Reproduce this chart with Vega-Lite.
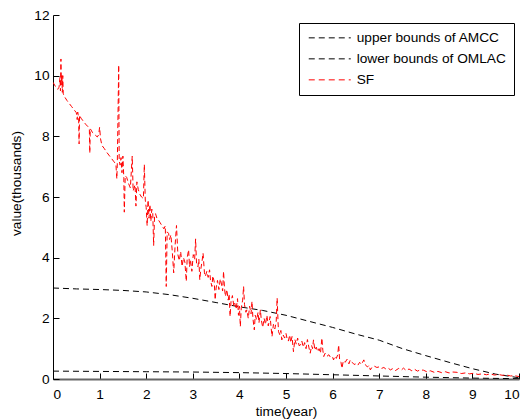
{
  "$schema": "https://vega.github.io/schema/vega-lite/v6.json",
  "autosize": {"type": "none"},
  "padding": {"left": 53, "top": 15, "right": 3, "bottom": 40},
  "width": 466,
  "height": 364,
  "background": "white",
  "config": {
    "view": {"stroke": null},
    "font": "Liberation Sans"
  },
  "datasets": {
    "upper": [
      {"t": 0, "v": 3.0}, {"t": 0.5, "v": 2.97}, {"t": 1, "v": 2.95}, {"t": 1.5, "v": 2.92},
      {"t": 2, "v": 2.87}, {"t": 2.5, "v": 2.78}, {"t": 3, "v": 2.66}, {"t": 3.5, "v": 2.52},
      {"t": 4, "v": 2.38}, {"t": 4.5, "v": 2.26}, {"t": 5, "v": 2.1}, {"t": 5.5, "v": 1.9},
      {"t": 6, "v": 1.7}, {"t": 6.5, "v": 1.48}, {"t": 7, "v": 1.28}, {"t": 7.5, "v": 1.0},
      {"t": 8, "v": 0.77}, {"t": 8.5, "v": 0.55}, {"t": 9, "v": 0.34}, {"t": 9.5, "v": 0.16},
      {"t": 10, "v": 0.04}
    ],
    "lower": [
      {"t": 0, "v": 0.26}, {"t": 1, "v": 0.25}, {"t": 2, "v": 0.24}, {"t": 3, "v": 0.23},
      {"t": 4, "v": 0.21}, {"t": 5, "v": 0.18}, {"t": 6, "v": 0.14}, {"t": 7, "v": 0.1},
      {"t": 8, "v": 0.06}, {"t": 9, "v": 0.03}, {"t": 10, "v": 0.01}
    ],
    "sf": [
      {"t":0.00,"v":9.78},{"t":0.05,"v":9.65},{"t":0.10,"v":9.55},{"t":0.13,"v":9.62},{"t":0.15,"v":9.95},
      {"t":0.16,"v":9.50},{"t":0.17,"v":10.55},{"t":0.18,"v":9.70},{"t":0.19,"v":10.05},{"t":0.20,"v":9.45},
      {"t":0.21,"v":10.00},{"t":0.22,"v":9.40},{"t":0.25,"v":9.30},{"t":0.30,"v":9.18},{"t":0.35,"v":9.08},
      {"t":0.40,"v":8.98},{"t":0.45,"v":8.88},{"t":0.50,"v":8.78},{"t":0.52,"v":8.55},{"t":0.53,"v":8.80},
      {"t":0.55,"v":8.62},{"t":0.56,"v":7.75},{"t":0.57,"v":8.70},{"t":0.60,"v":8.60},{"t":0.65,"v":8.50},
      {"t":0.70,"v":8.40},{"t":0.75,"v":8.32},{"t":0.78,"v":8.25},{"t":0.79,"v":7.45},{"t":0.80,"v":8.25},
      {"t":0.85,"v":8.12},{"t":0.90,"v":8.05},{"t":0.95,"v":7.98},{"t":0.98,"v":8.05},{"t":1.00,"v":8.30},
      {"t":1.02,"v":7.92},{"t":1.05,"v":7.70},{"t":1.10,"v":7.60},{"t":1.15,"v":7.48},{"t":1.20,"v":7.38},
      {"t":1.25,"v":7.28},{"t":1.30,"v":7.18},{"t":1.35,"v":7.08},{"t":1.37,"v":6.60},{"t":1.38,"v":7.10},
      {"t":1.41,"v":10.35},{"t":1.42,"v":7.20},{"t":1.44,"v":7.05},{"t":1.46,"v":7.30},{"t":1.48,"v":6.80},
      {"t":1.50,"v":7.35},{"t":1.52,"v":6.60},{"t":1.53,"v":5.50},{"t":1.55,"v":6.70},{"t":1.58,"v":6.65},
      {"t":1.62,"v":6.45},{"t":1.66,"v":6.30},{"t":1.70,"v":7.35},{"t":1.72,"v":6.20},{"t":1.76,"v":6.40},
      {"t":1.78,"v":5.70},{"t":1.80,"v":6.50},{"t":1.83,"v":6.25},{"t":1.86,"v":6.10},{"t":1.90,"v":6.00},
      {"t":1.94,"v":5.95},{"t":1.96,"v":7.07},{"t":1.98,"v":5.90},{"t":2.00,"v":5.65},{"t":2.02,"v":5.05},
      {"t":2.04,"v":5.90},{"t":2.06,"v":5.30},{"t":2.08,"v":5.75},{"t":2.10,"v":5.20},{"t":2.12,"v":5.60},
      {"t":2.14,"v":5.50},{"t":2.16,"v":4.40},{"t":2.18,"v":5.40},{"t":2.20,"v":5.45},{"t":2.23,"v":5.30},
      {"t":2.26,"v":5.25},{"t":2.30,"v":5.15},{"t":2.34,"v":5.05},{"t":2.38,"v":4.95},{"t":2.41,"v":5.05},
      {"t":2.43,"v":3.05},{"t":2.45,"v":4.85},{"t":2.48,"v":4.80},{"t":2.50,"v":4.60},{"t":2.53,"v":4.75},
      {"t":2.56,"v":4.20},{"t":2.59,"v":3.50},{"t":2.62,"v":4.40},{"t":2.65,"v":5.06},{"t":2.68,"v":4.10},
      {"t":2.71,"v":3.90},{"t":2.74,"v":4.20},{"t":2.77,"v":3.71},{"t":2.80,"v":4.00},{"t":2.83,"v":3.85},
      {"t":2.86,"v":3.22},{"t":2.88,"v":4.00},{"t":2.91,"v":4.26},{"t":2.93,"v":3.70},{"t":2.95,"v":3.93},
      {"t":2.98,"v":3.55},{"t":3.01,"v":4.10},{"t":3.04,"v":3.95},{"t":3.06,"v":4.62},{"t":3.08,"v":3.82},
      {"t":3.11,"v":3.70},{"t":3.13,"v":3.95},{"t":3.15,"v":3.27},{"t":3.17,"v":3.60},{"t":3.20,"v":3.90},
      {"t":3.22,"v":4.15},{"t":3.25,"v":3.50},{"t":3.27,"v":3.38},{"t":3.30,"v":3.55},{"t":3.33,"v":3.35},
      {"t":3.36,"v":3.60},{"t":3.38,"v":3.25},{"t":3.41,"v":3.05},{"t":3.43,"v":3.40},{"t":3.46,"v":3.20},
      {"t":3.48,"v":2.61},{"t":3.50,"v":3.00},{"t":3.53,"v":3.25},{"t":3.56,"v":2.95},{"t":3.59,"v":3.30},
      {"t":3.62,"v":3.10},{"t":3.64,"v":2.90},{"t":3.66,"v":3.55},{"t":3.68,"v":3.00},{"t":3.70,"v":2.72},
      {"t":3.73,"v":2.95},{"t":3.76,"v":2.60},{"t":3.78,"v":2.80},{"t":3.80,"v":2.06},{"t":3.82,"v":2.55},
      {"t":3.85,"v":2.75},{"t":3.88,"v":2.40},{"t":3.90,"v":2.50},{"t":3.93,"v":2.30},{"t":3.96,"v":2.65},
      {"t":3.98,"v":2.10},{"t":4.00,"v":2.40},{"t":4.02,"v":1.73},{"t":4.04,"v":2.35},{"t":4.07,"v":2.60},
      {"t":4.09,"v":3.05},{"t":4.11,"v":2.45},{"t":4.14,"v":2.20},{"t":4.16,"v":2.28},{"t":4.19,"v":2.00},
      {"t":4.22,"v":2.40},{"t":4.25,"v":2.15},{"t":4.27,"v":2.56},{"t":4.29,"v":2.00},{"t":4.32,"v":1.62},
      {"t":4.34,"v":2.10},{"t":4.37,"v":1.95},{"t":4.40,"v":2.20},{"t":4.42,"v":1.85},{"t":4.45,"v":2.28},
      {"t":4.47,"v":1.95},{"t":4.50,"v":1.70},{"t":4.53,"v":2.00},{"t":4.56,"v":1.80},{"t":4.59,"v":2.10},
      {"t":4.62,"v":1.75},{"t":4.66,"v":2.06},{"t":4.68,"v":1.70},{"t":4.70,"v":1.40},{"t":4.73,"v":1.80},
      {"t":4.76,"v":1.65},{"t":4.79,"v":1.90},{"t":4.81,"v":2.67},{"t":4.83,"v":1.85},{"t":4.84,"v":1.56},
      {"t":4.87,"v":1.45},{"t":4.89,"v":1.60},{"t":4.91,"v":1.29},{"t":4.94,"v":1.45},{"t":4.97,"v":1.35},
      {"t":5.00,"v":1.50},{"t":5.02,"v":1.35},{"t":5.05,"v":1.25},{"t":5.08,"v":1.45},{"t":5.10,"v":1.20},
      {"t":5.13,"v":1.40},{"t":5.16,"v":0.90},{"t":5.19,"v":1.30},{"t":5.22,"v":1.15},{"t":5.25,"v":1.35},
      {"t":5.28,"v":1.10},{"t":5.31,"v":1.12},{"t":5.34,"v":1.25},{"t":5.37,"v":1.05},{"t":5.40,"v":1.20},
      {"t":5.43,"v":1.00},{"t":5.46,"v":1.30},{"t":5.49,"v":1.05},{"t":5.52,"v":0.85},{"t":5.55,"v":1.10},
      {"t":5.57,"v":1.00},{"t":5.59,"v":1.29},{"t":5.62,"v":0.95},{"t":5.65,"v":1.05},{"t":5.68,"v":0.90},
      {"t":5.71,"v":1.00},{"t":5.74,"v":0.85},{"t":5.77,"v":1.35},{"t":5.79,"v":0.95},{"t":5.81,"v":0.74},
      {"t":5.84,"v":0.85},{"t":5.88,"v":0.75},{"t":5.92,"v":0.80},{"t":5.96,"v":0.70},{"t":6.00,"v":0.72},
      {"t":6.02,"v":0.63},{"t":6.05,"v":0.75},{"t":6.08,"v":0.68},{"t":6.11,"v":0.80},{"t":6.13,"v":1.12},
      {"t":6.15,"v":0.65},{"t":6.18,"v":0.55},{"t":6.20,"v":0.35},{"t":6.23,"v":0.60},{"t":6.27,"v":0.55},
      {"t":6.31,"v":0.65},{"t":6.35,"v":0.50},{"t":6.38,"v":0.63},{"t":6.42,"v":0.55},{"t":6.46,"v":0.48},
      {"t":6.50,"v":0.50},{"t":6.54,"v":0.45},{"t":6.58,"v":0.55},{"t":6.62,"v":0.48},{"t":6.67,"v":0.63},
      {"t":6.71,"v":0.45},{"t":6.75,"v":0.40},{"t":6.78,"v":0.45},{"t":6.81,"v":0.30},{"t":6.85,"v":0.40},
      {"t":6.90,"v":0.42},{"t":6.95,"v":0.38},{"t":7.00,"v":0.40},{"t":7.05,"v":0.35},{"t":7.10,"v":0.38},
      {"t":7.15,"v":0.32},{"t":7.20,"v":0.35},{"t":7.24,"v":0.30},{"t":7.30,"v":0.35},{"t":7.35,"v":0.28},
      {"t":7.42,"v":0.35},{"t":7.48,"v":0.30},{"t":7.52,"v":0.36},{"t":7.58,"v":0.28},{"t":7.64,"v":0.33},
      {"t":7.70,"v":0.27},{"t":7.76,"v":0.32},{"t":7.82,"v":0.26},{"t":7.88,"v":0.30},{"t":7.95,"v":0.29},
      {"t":8.02,"v":0.24},{"t":8.10,"v":0.27},{"t":8.18,"v":0.22},{"t":8.26,"v":0.25},{"t":8.34,"v":0.21},
      {"t":8.42,"v":0.24},{"t":8.50,"v":0.20},{"t":8.58,"v":0.23},{"t":8.67,"v":0.22},{"t":8.76,"v":0.18},
      {"t":8.85,"v":0.20},{"t":8.94,"v":0.17},{"t":9.03,"v":0.19},{"t":9.12,"v":0.15},{"t":9.21,"v":0.17},
      {"t":9.30,"v":0.14},{"t":9.38,"v":0.17},{"t":9.47,"v":0.13},{"t":9.56,"v":0.15},{"t":9.65,"v":0.12},
      {"t":9.74,"v":0.13},{"t":9.82,"v":0.10},{"t":9.90,"v":0.11},{"t":10.00,"v":0.08}
    ]
  },
  "layer": [
    {
      "data": {"name": "upper"},
      "transform": [{"calculate": "'upper bounds of AMCC'", "as": "series"}],
      "mark": {"type": "line", "strokeWidth": 1, "strokeDash": [6, 4], "clip": true},
      "encoding": {
        "x": {"field": "t", "type": "quantitative"},
        "y": {"field": "v", "type": "quantitative"},
        "color": {"field": "series", "type": "nominal"}
      }
    },
    {
      "data": {"name": "lower"},
      "transform": [{"calculate": "'lower bounds of OMLAC'", "as": "series"}],
      "mark": {"type": "line", "strokeWidth": 1, "strokeDash": [6, 4], "clip": true},
      "encoding": {
        "x": {"field": "t", "type": "quantitative"},
        "y": {"field": "v", "type": "quantitative"},
        "color": {"field": "series", "type": "nominal"}
      }
    },
    {
      "data": {"name": "sf"},
      "transform": [{"calculate": "'SF'", "as": "series"}],
      "mark": {"type": "line", "strokeWidth": 1, "strokeDash": [5, 3], "clip": true},
      "encoding": {
        "x": {
          "field": "t", "type": "quantitative",
          "scale": {"domain": [0, 10], "nice": false, "zero": false},
          "axis": {
            "title": "time(year)", "values": [0,1,2,3,4,5,6,7,8,9,10],
            "grid": false, "tickSize": -6, "tickColor": "#000", "domainColor": "#666", "domainWidth": 2,
            "labelFontSize": 13.7, "labelColor": "#000", "labelPadding": 14, "labelFont": "Liberation Sans",
            "titleFontSize": 13.7, "titleColor": "#000", "titleFontWeight": "normal", "titlePadding": 4, "titleFont": "Liberation Sans"
          }
        },
        "y": {
          "field": "v", "type": "quantitative",
          "scale": {"domain": [0, 12], "nice": false},
          "axis": {
            "title": "value(thousands)", "values": [0,2,4,6,8,10,12],
            "grid": false, "tickSize": -6, "tickColor": "#000", "domainColor": "#000",
            "labelFontSize": 13.7, "labelColor": "#000", "labelPadding": 10, "labelFont": "Liberation Sans",
            "titleFontSize": 13.7, "titleColor": "#000", "titleFontWeight": "normal", "titlePadding": 10, "titleFont": "Liberation Sans",
            "titleY": 168
          }
        },
        "color": {
          "field": "series", "type": "nominal",
          "scale": {
            "domain": ["upper bounds of AMCC", "lower bounds of OMLAC", "SF"],
            "range": ["#000000", "#000000", "#ff0000"]
          },
          "legend": {
            "title": null, "orient": "none", "legendX": 246, "legendY": 8,
            "strokeColor": "#000", "fillColor": "#fff", "padding": 8,
            "symbolType": "M-1.7,0H12.3", "symbolSize": 36, "symbolStrokeWidth": 1, "symbolDash": [6, 4],
            "labelFontSize": 13.7, "labelFont": "Liberation Sans", "labelColor": "#000", "labelOffset": 36,
            "rowPadding": 6, "labelLimit": 300
          }
        }
      }
    }
  ]
}
